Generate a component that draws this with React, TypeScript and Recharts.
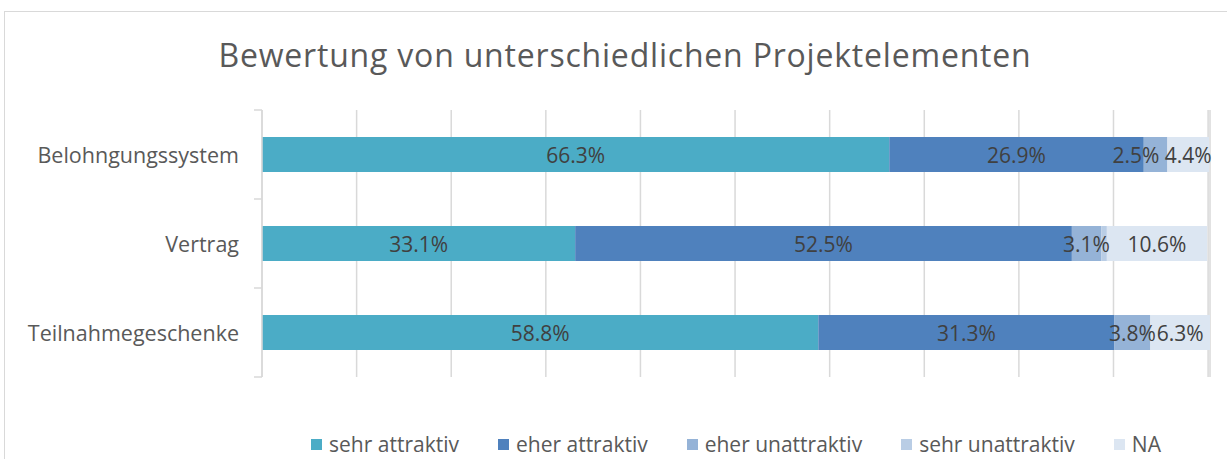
import { BarChart, Bar, XAxis, YAxis, CartesianGrid, LabelList, Legend } from "recharts";

const categories = ["Belohngungssystem", "Vertrag", "Teilnahmegeschenke"];
const sehrAttraktiv = [66.3, 33.1, 58.8];
const eherAttraktiv = [26.9, 52.5, 31.3];
const eherUnattraktiv = [2.5, 3.1, 3.8];
const sehrUnattraktiv = [0, 0.6, 0];
const naValues = [4.4, 10.6, 6.3];
const xTicks = [0, 10, 20, 30, 40, 50, 60, 70, 80, 90, 100];

const series = [
  { key: "sehrAttraktiv", name: "sehr attraktiv", color: "#4bacc6", values: sehrAttraktiv, label: true },
  { key: "eherAttraktiv", name: "eher attraktiv", color: "#4f81bd", values: eherAttraktiv, label: true },
  { key: "eherUnattraktiv", name: "eher unattraktiv", color: "#95b3d7", values: eherUnattraktiv, label: true },
  { key: "sehrUnattraktiv", name: "sehr unattraktiv", color: "#b9cde5", values: sehrUnattraktiv, label: false },
  { key: "na", name: "NA", color: "#dce6f2", values: naValues, label: true },
];

const data = categories.map((name, i) => {
  const row: Record<string, string | number> = { name };
  series.forEach((s) => {
    row[s.key] = s.values[i];
  });
  return row;
});

const FONT = "'Open Sans', sans-serif";
const GRID = "#d9d9d9";
const BAND = 89;

function CategoryTick(props: any) {
  const { y, payload, index, visibleTicksCount } = props;
  const half = BAND / 2;
  return (
    <g>
      <line x1={249} x2={257} y1={y - half} y2={y - half} stroke={GRID} strokeWidth={1.5} />
      {index === visibleTicksCount - 1 && (
        <line x1={249} x2={257} y1={y + half} y2={y + half} stroke={GRID} strokeWidth={1.5} />
      )}
      <text
        x={234}
        y={y}
        textAnchor="end"
        dominantBaseline="central"
        fill="#595959"
        fontSize={21.5}
        fontFamily={FONT}
      >
        {payload.value}
      </text>
    </g>
  );
}

// centred label; a very narrow segment pushes its label left so it does not run into the next one
function SegmentLabel(props: any) {
  const { x, y, width, height, value } = props;
  const narrow = width < 26;
  return (
    <text
      x={narrow ? x + width - 8 : x + width / 2}
      y={y + height / 2}
      textAnchor={narrow ? "end" : "middle"}
      dominantBaseline="central"
      fill="#404040"
      fontSize={21}
      fontFamily={FONT}
    >
      {`${value}%`}
    </text>
  );
}

function LegendContent() {
  return (
    <div
      style={{
        display: "flex",
        justifyContent: "center",
        gap: 39,
        fontFamily: FONT,
        fontSize: 21,
        lineHeight: "21px",
        color: "#595959",
      }}
    >
      {series.map((s) => (
        <div key={s.key} style={{ display: "flex", alignItems: "center" }}>
          <span
            style={{ display: "inline-block", width: 11, height: 11, background: s.color, marginRight: 7 }}
          />
          <span>{s.name}</span>
        </div>
      ))}
    </div>
  );
}

export default function App() {
  return (
    <div
      style={{
        position: "absolute",
        left: 4,
        top: 11,
        width: 1222,
        height: 447,
        borderTop: `1px solid ${GRID}`,
        borderLeft: `1px solid ${GRID}`,
        background: "#fff",
        fontFamily: FONT,
      }}
    >
      <div
        style={{
          position: "absolute",
          left: 0,
          width: 1240,
          top: 27,
          textAlign: "center",
          fontSize: 32,
          letterSpacing: 0.8,
          lineHeight: "32px",
          color: "#595959",
        }}
      >
        Bewertung von unterschiedlichen Projektelementen
      </div>
      <BarChart
        width={1222}
        height={447}
        data={data}
        layout="vertical"
        margin={{ top: 98, right: 17, bottom: 82, left: 0 }}
        barSize={35}
      >
        <CartesianGrid horizontal={false} stroke={GRID} strokeWidth={1.5} />
        <XAxis type="number" domain={[0, 100]} ticks={xTicks} hide />
        <YAxis
          type="category"
          dataKey="name"
          width={257}
          axisLine={{ stroke: GRID, strokeWidth: 1.5 }}
          tickLine={false}
          tick={<CategoryTick />}
          interval={0}
        />
        <Legend
          verticalAlign="middle"
          content={<LegendContent />}
          wrapperStyle={{ left: 257, width: 948, top: 422 }}
        />
        {series.map((s) => (
          <Bar key={s.key} dataKey={s.key} name={s.name} stackId="a" fill={s.color} isAnimationActive={false}>
            {s.label && <LabelList dataKey={s.key} content={<SegmentLabel />} />}
          </Bar>
        ))}
      </BarChart>
    </div>
  );
}
